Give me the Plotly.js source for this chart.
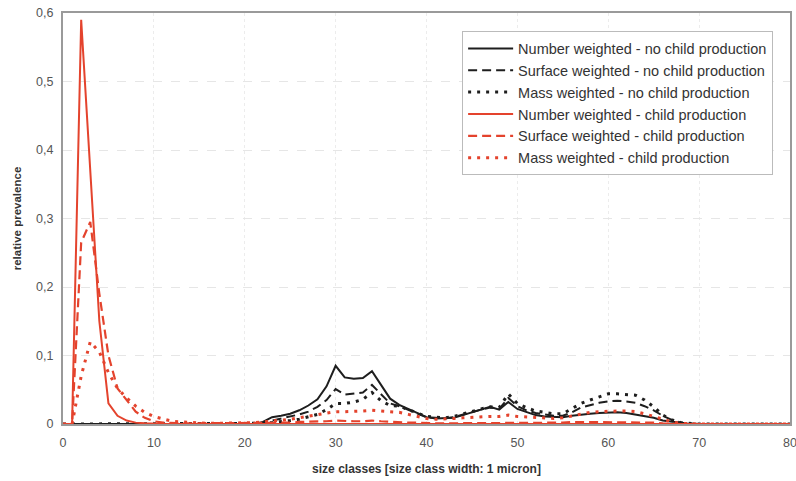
<!DOCTYPE html>
<html>
<head>
<meta charset="utf-8">
<script src="https://cdn.plot.ly/plotly-3.0.1.min.js"></script>
<style>html,body{margin:0;padding:0;background:#fff;}#chart{width:796px;height:481px;}</style>
</head>
<body>
<div id="chart"></div>
<script>
// size classes 0..80 (1 micron width)
const sizeClasses = Array.from({length: 81}, (_, i) => i);

const numberNoChild = [
  0,0,0,0,0,0,0,0,0,0, 0,0,0,0,0,0,0,0,0,0,
  0,0,0.003,0.010,0.012,0.015,0.020,0.027,0.036,0.055,
  0.085,0.068,0.066,0.067,0.077,0.057,0.037,0.028,0.022,0.015,
  0.010,0.008,0.008,0.009,0.013,0.017,0.020,0.025,0.021,0.032,
  0.022,0.017,0.013,0.011,0.010,0.010,0.012,0.014,0.015,0.016,
  0.017,0.017,0.016,0.014,0.012,0.009,0.005,0.003,0.001,0,
  0,0,0,0,0,0,0,0,0,0,0
];
const surfaceNoChild = [
  0,0,0,0,0,0,0,0,0,0, 0,0,0,0,0,0,0,0,0,0,
  0,0,0.002,0.005,0.007,0.010,0.014,0.018,0.025,0.035,
  0.051,0.043,0.044,0.046,0.057,0.044,0.030,0.026,0.021,0.015,
  0.010,0.009,0.008,0.010,0.014,0.018,0.021,0.024,0.022,0.038,
  0.026,0.020,0.016,0.014,0.012,0.012,0.017,0.024,0.028,0.031,
  0.033,0.034,0.033,0.031,0.026,0.020,0.012,0.006,0.002,0.0005,
  0,0,0,0,0,0,0,0,0,0,0
];
const massNoChild = [
  0,0,0,0,0,0,0,0,0,0, 0,0,0,0,0,0,0,0,0,0,
  0,0,0.001,0.002,0.003,0.005,0.007,0.010,0.014,0.021,
  0.030,0.030,0.032,0.036,0.046,0.034,0.027,0.026,0.021,0.016,
  0.011,0.010,0.009,0.011,0.015,0.019,0.022,0.025,0.024,0.044,
  0.030,0.024,0.019,0.017,0.015,0.015,0.022,0.030,0.035,0.040,
  0.044,0.044,0.043,0.042,0.035,0.025,0.013,0.006,0.002,0.0005,
  0,0,0,0,0,0,0,0,0,0,0
];
const numberChild = [
  0,0,0.590,0.370,0.150,0.030,0.012,0.005,0.002,0.001,
  0,0,0,0,0,0,0,0,0,0, 0,0,0,0,0,0,0,0,0,0,
  0,0,0,0,0,0,0,0,0,0, 0,0,0,0,0,0,0,0,0,0,
  0,0,0,0,0,0,0,0,0,0, 0,0,0,0,0,0,0,0,0,0,
  0,0,0,0,0,0,0,0,0,0,0
];
const surfaceChild = [
  0,0,0.265,0.295,0.190,0.100,0.052,0.035,0.018,0.009,
  0.004,0.002,0.001,0.001,0.001,0.001,0.001,0.001,0.001,0.001,
  0.001,0.001,0.001,0.002,0.002,0.002,0.003,0.003,0.004,0.004,
  0.005,0.004,0.004,0.004,0.005,0.004,0.003,0.003,0.002,0.002,
  0.001,0.001,0.001,0.001,0.001,0.002,0.002,0.002,0.002,0.002,
  0.002,0.002,0.001,0.001,0.001,0.002,0.003,0.003,0.003,0.003,
  0.003,0.003,0.003,0.003,0.003,0.002,0.001,0,0,0,
  0,0,0,0,0,0,0,0,0,0,0
];
const massChild = [
  0,0,0.070,0.120,0.105,0.075,0.052,0.038,0.026,0.017,
  0.011,0.007,0.004,0.003,0.002,0.001,0.001,0.001,0.001,0.001,
  0.001,0.002,0.003,0.004,0.005,0.007,0.009,0.011,0.013,0.016,
  0.018,0.018,0.018,0.019,0.020,0.019,0.018,0.017,0.014,0.011,
  0.008,0.007,0.007,0.008,0.009,0.010,0.010,0.011,0.011,0.013,
  0.011,0.010,0.009,0.008,0.008,0.009,0.012,0.015,0.017,0.018,
  0.019,0.019,0.019,0.018,0.015,0.011,0.006,0.003,0.001,0,
  0,0,0,0,0,0,0,0,0,0,0
];

const seriesNames = [
  'Number weighted - no child production',
  'Surface weighted - no child production',
  'Mass weighted - no child production',
  'Number weighted - child production',
  'Surface weighted - child production',
  'Mass weighted - child production'
];
const xTicks = [0,10,20,30,40,50,60,70,80];
const yTicks = [0,0.1,0.2,0.3,0.4,0.5,0.6];

const BLACK = '#1e1e1e';
const RED = '#e4432d';
const FONT = 'Liberation Sans, Arial, sans-serif';

function tr(y, name, color, dash, width) {
  return {x: sizeClasses, y: y, name: name, type: 'scatter', mode: 'lines',
          line: {color: color, dash: dash, width: width}};
}

const data = [
  tr(numberNoChild, seriesNames[0], BLACK, 'solid', 2),
  tr(surfaceNoChild, seriesNames[1], BLACK, '9px,5px', 2),
  tr(massNoChild, seriesNames[2], BLACK, '3px,6px', 3),
  tr(numberChild, seriesNames[3], RED, 'solid', 2),
  tr(surfaceChild, seriesNames[4], RED, '9px,5px', 2.2),
  tr(massChild, seriesNames[5], RED, '3px,6px', 3)
];

const layout = {
  width: 796, height: 481,
  margin: {l: 63, r: 6, t: 13, b: 57},
  paper_bgcolor: '#fff', plot_bgcolor: '#fff',
  separators: ',.',
  font: {family: FONT, size: 12, color: '#555'},
  showlegend: true,
  legend: {
    x: 0.549, y: 0.955, xanchor: 'left', yanchor: 'top',
    bgcolor: '#fff', bordercolor: '#bbb', borderwidth: 1,
    font: {family: FONT, size: 14.5, color: '#333'},
    itemwidth: 45,
    tracegroupgap: 0
  },
  xaxis: {
    range: [0, 80], tickvals: xTicks, ticktext: xTicks.map(String),
    showgrid: true, gridcolor: '#ececec', griddash: 'dot', gridwidth: 1,
    showline: true, linecolor: '#9a9a9a', linewidth: 2, mirror: true,
    zeroline: false, ticks: '', tickfont: {size: 12.5, color: '#555'},
    ticklabeloverflow: 'allow', ticklabelstandoff: 6,
    title: {text: 'size classes [size class width: 1 micron]', standoff: 16,
            font: {size: 12, color: '#333', family: FONT, weight: 'bold'}}
  },
  yaxis: {
    range: [0, 0.6], tickvals: yTicks, ticktext: yTicks.map(v => v === 0 ? '0' : String(v).replace('.', ',')),
    showgrid: true, gridcolor: '#e6e6e6', griddash: 'dash', gridwidth: 1,
    showline: true, linecolor: '#9a9a9a', linewidth: 2, mirror: true,
    zeroline: false, ticks: '', tickfont: {size: 12.5, color: '#555'},
    ticklabelstandoff: 5,
    title: {text: 'relative prevalence', standoff: 12,
            font: {size: 11.5, color: '#333', family: FONT, weight: 'bold'}}
  }
};

Plotly.newPlot('chart', data, layout, {staticPlot: true, displayModeBar: false});
</script>
</body>
</html>
